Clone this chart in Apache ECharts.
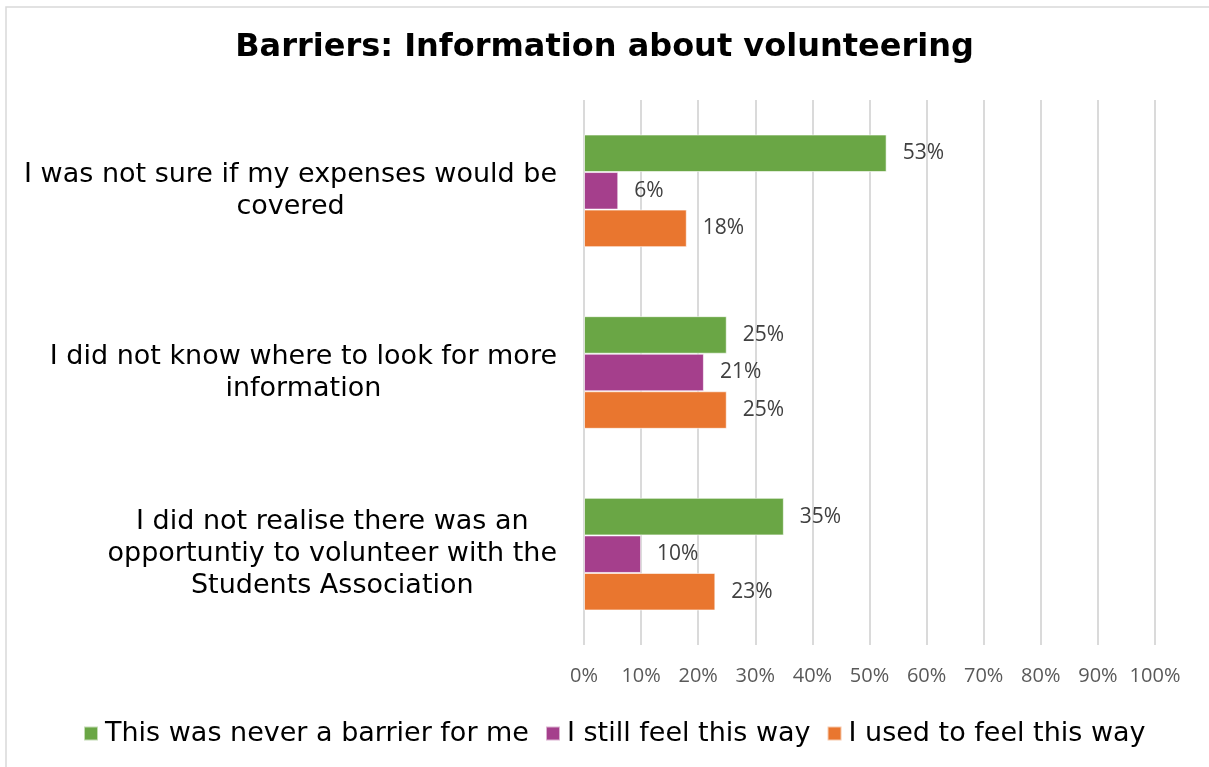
<!DOCTYPE html>
<html>
<head>
<meta charset="utf-8">
<script src="https://cdn.jsdelivr.net/npm/echarts@6/dist/echarts.min.js"></script>
<style>
  html, body { margin: 0; padding: 0; background: #fff; }
  #chart { width: 1209px; height: 767px; }
</style>
</head>
<body>
<div id="chart"></div>
<script>
// Survey statements (top to bottom), with manual line breaks
const categories = [
  'I was not sure if my expenses would be\ncovered',
  'I did not know where to look for more\ninformation',
  'I did not realise there was an\nopportuntiy to volunteer with the\nStudents Association'
];

const seriesNames = [
  'This was never a barrier for me',
  'I still feel this way',
  'I used to feel this way'
];

// Percent of respondents per statement
const neverBarrier = [53, 25, 35];
const stillFeel = [6, 21, 10];
const usedToFeel = [18, 25, 23];

const xTicks = [0, 10, 20, 30, 40, 50, 60, 70, 80, 90, 100];

const colors = ['#6aa645', '#a53f8c', '#e9762f'];

const chart = echarts.init(document.getElementById('chart'));

const labelFont = 'DejaVu Sans, Verdana, sans-serif';
const numFont = '"Open Sans", "Noto Sans", sans-serif';

function makeSeries(name, data, color) {
  return {
    name: name,
    type: 'bar',
    data: data,
    barGap: '0%',
    barCategoryGap: '38%',
    itemStyle: { color: color, borderColor: 'rgba(255,255,255,0.6)', borderWidth: 1 },
    label: {
      show: true,
      position: 'right',
      distance: 16,
      formatter: '{c}%',
      fontFamily: numFont,
      fontSize: 21,
      color: '#404040'
    }
  };
}

chart.setOption({
  animation: false,
  backgroundColor: '#fff',
  graphic: [{
    type: 'rect',
    shape: { x: 6, y: 7, width: 1220, height: 780 },
    style: { fill: 'none', stroke: '#d9d9d9', lineWidth: 1.5 },
    silent: true,
    z: -10
  }],
  title: {
    text: 'Barriers: Information about volunteering',
    left: 'center',
    top: 27,
    textStyle: {
      fontFamily: labelFont,
      fontWeight: 'bold',
      fontSize: 32,
      color: '#000'
    }
  },
  legend: {
    data: seriesNames,
    bottom: 15,
    left: 78,
    itemWidth: 14,
    itemHeight: 14,
    itemGap: 16,
    icon: 'rect',
    textStyle: {
      fontFamily: labelFont,
      fontSize: 27,
      color: '#000',
      padding: [0, 0, 0, 2]
    }
  },
  grid: {
    left: 584,
    right: 54,
    top: 100,
    bottom: 122,
    containLabel: false
  },
  xAxis: {
    type: 'value',
    min: xTicks[0],
    max: xTicks[xTicks.length - 1],
    interval: 10,
    axisLine: { show: false },
    axisTick: { show: false },
    splitLine: { lineStyle: { color: '#dadada', width: 2 } },
    axisLabel: {
      formatter: '{value}%',
      margin: 21,
      fontFamily: numFont,
      fontSize: 20,
      color: '#595959'
    }
  },
  yAxis: {
    type: 'category',
    data: categories,
    inverse: true,
    axisLine: { show: false },
    axisTick: { show: false },
    axisLabel: {
      margin: 27,
      align: 'right',
      lineHeight: 32,
      fontFamily: labelFont,
      fontSize: 27,
      color: '#000',
      formatter: function (v) {
        return v.split('\n').map(function (l) { return '{c|' + l + '}'; }).join('\n');
      },
      rich: {
        c: {
          align: 'center',
          fontFamily: labelFont,
          fontSize: 27,
          lineHeight: 32,
          color: '#000'
        }
      }
    }
  },
  series: [
    makeSeries(seriesNames[0], neverBarrier, colors[0]),
    makeSeries(seriesNames[1], stillFeel, colors[1]),
    makeSeries(seriesNames[2], usedToFeel, colors[2])
  ]
});
</script>
</body>
</html>
